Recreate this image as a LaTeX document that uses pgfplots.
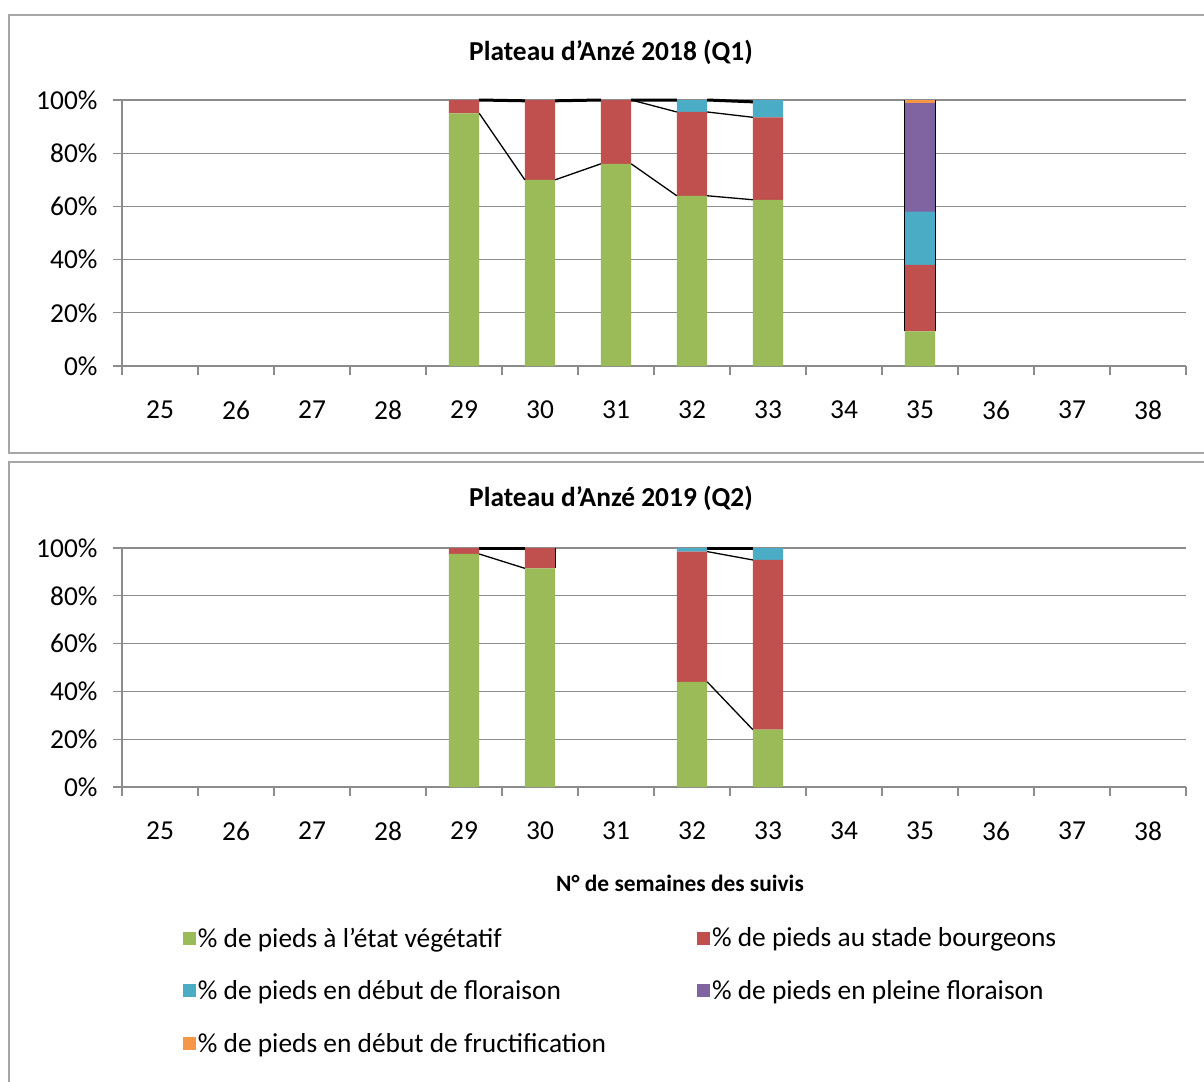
\documentclass[border=0pt]{standalone}
\usepackage{pgfplots}
\pgfplotsset{compat=1.18}
\usepackage{fontspec}
\setmainfont{Carlito}
\definecolor{cgreen}{HTML}{9BBB59}
\definecolor{cred}{HTML}{C0504D}
\definecolor{cblue}{HTML}{4BACC6}
\definecolor{cpurple}{HTML}{8064A2}
\definecolor{corange}{HTML}{F79646}
\definecolor{gridgray}{HTML}{8C8C8C}
\definecolor{boxgray}{HTML}{A6A6A6}
\newcommand{\tfont}{\fontsize{27.5}{32}\selectfont}
\newcommand{\lfont}{\fontsize{27.5}{32}\selectfont}
\pgfplotsset{
  base/.style={
    scale only axis, width=1064bp, anchor=south west,
    xmin=24.5, xmax=38.5, ymin=0, ymax=100,
    axis x line*=bottom, axis y line*=left,
    axis line style={gridgray, line width=1.3bp},
    xtick={25,...,38},
    minor xtick={24.5,25.5,...,38.5},
    major x tick style={draw=none},
    minor x tick style={gridgray, line width=1.3bp},
    y tick style={gridgray, line width=1.3bp},
    tick align=outside, major tick length=9bp, minor tick length=9bp,
    ytick={0,20,...,100},
    ymajorgrids, major grid style={gridgray, line width=1.3bp},
    /pgf/number format/assume math mode=true,
    tick label style={font=\tfont, text=black},
    yticklabel={\pgfmathprintnumber{\tick}\%},
    xticklabel style={yshift=-22bp},
    yticklabel style={xshift=-12bp},
  },
  lines/.style={
    scale only axis, width=1064bp, anchor=south west,
    xmin=24.5, xmax=38.5, ymin=0, ymax=100,
    hide axis, clip=false, unbounded coords=jump,
  },
}
\begin{document}
\begin{tikzpicture}
\useasboundingbox (0,0) rectangle (1204bp,-1082bp);
\fill[white] (0,0) rectangle (1204bp,-1082bp);
\draw[boxgray, line width=2bp] (9bp,-15bp) rectangle (1220bp,-453bp);
\draw[boxgray, line width=2bp] (9bp,-462bp) rectangle (1220bp,-1095bp);
\node[font=\fontsize{27.5}{32}\selectfont\bfseries] at (611bp,-52bp) {Plateau d'Anzé 2018 (Q1)};
\node[font=\fontsize{27.5}{32}\selectfont\bfseries] at (611bp,-498bp) {Plateau d'Anzé 2019 (Q2)};
\node[font=\fontsize{23.5}{28}\selectfont\bfseries] at (680bp,-883bp) {N° de semaines des suivis};

% ---------------- 2018 ----------------
\begin{axis}[base, at={(122bp,-366bp)}, height=266bp, ybar stacked, bar width=0.4]
\addplot[fill=cgreen, draw=none] coordinates {(29,95) (30,70) (31,76) (32,64) (33,62.5) (35,13)};
\addplot[fill=cred, draw=none] coordinates {(29,5) (30,30) (31,24) (32,31.5) (33,31) (35,25)};
\addplot[fill=cblue, draw=none] coordinates {(29,0) (30,0) (31,0) (32,4.5) (33,6.5) (35,20)};
\addplot[fill=cpurple, draw=none] coordinates {(29,0) (30,0) (31,0) (32,0) (33,0) (35,41)};
\addplot[fill=corange, draw=none] coordinates {(29,0) (30,0) (31,0) (32,0) (33,0) (35,1)};
\end{axis}
\begin{axis}[lines, at={(122bp,-366bp)}, height=266bp]
\addplot[black, line width=1.3bp] coordinates {(29.2,95) (29.8,70) (30,nan) (30.2,70) (30.8,76) (31,nan) (31.2,76) (31.8,64) (32,nan) (32.2,64) (32.8,62.5)};
\addplot[black, line width=1.3bp] coordinates {(31.2,100) (31.8,95.5) (32,nan) (32.2,95.5) (32.8,93.5)};
\addplot[black, line width=3bp] coordinates {(29.2,100) (29.8,99.7) (30,nan) (30.2,99.7) (30.8,100) (31,nan) (31.2,100) (31.8,100) (32,nan) (32.2,100) (32.8,99.3)};
\addplot[black, line width=1.3bp] coordinates {(34.8,13) (34.8,100) (35,nan) (35.2,13) (35.2,100)};
\end{axis}

% ---------------- 2019 ----------------
\begin{axis}[base, at={(122bp,-787bp)}, height=239bp, ybar stacked, bar width=0.4,
  legend image code/.code={\fill[#1] (0bp,-6.5bp) rectangle (13bp,6.5bp);},
  legend columns=2, legend cell align=left,
  legend style={at={(0.057,-0.58)}, anchor=north west, draw=none, fill=none,
    font=\lfont, inner sep=0pt, row sep=28bp,
    /tikz/every even column/.append style={column sep=89bp}}]
\addplot[fill=cgreen, draw=none] coordinates {(29,97.5) (30,91.5) (32,44) (33,24)};
\addlegendentry{\% de pieds à l'état végétatif}
\addplot[fill=cred, draw=none] coordinates {(29,2.5) (30,8.5) (32,54.5) (33,71)};
\addlegendentry{\% de pieds au stade bourgeons}
\addplot[fill=cblue, draw=none] coordinates {(29,0) (30,0) (32,1.5) (33,5)};
\addlegendentry{\% de pieds en début de floraison}
\addplot[fill=cpurple, draw=none] coordinates {(29,0) (30,0) (32,0) (33,0)};
\addlegendentry{\% de pieds en pleine floraison}
\addplot[fill=corange, draw=none] coordinates {(29,0) (30,0) (32,0) (33,0)};
\addlegendentry{\% de pieds en début de fructification}
\end{axis}
\begin{axis}[lines, at={(122bp,-787bp)}, height=239bp]
\addplot[black, line width=1.3bp] coordinates {(29.2,97.5) (29.8,91.5) (30,nan) (32.2,44) (32.8,24)};
\addplot[black, line width=1.3bp] coordinates {(32.2,98.5) (32.8,95)};
\addplot[black, line width=3bp] coordinates {(29.2,100) (29.8,100) (30,nan) (32.2,100) (32.8,100)};
\addplot[black, line width=1.3bp] coordinates {(30.2,91.5) (30.2,100)};
\end{axis}
\end{tikzpicture}
\end{document}
